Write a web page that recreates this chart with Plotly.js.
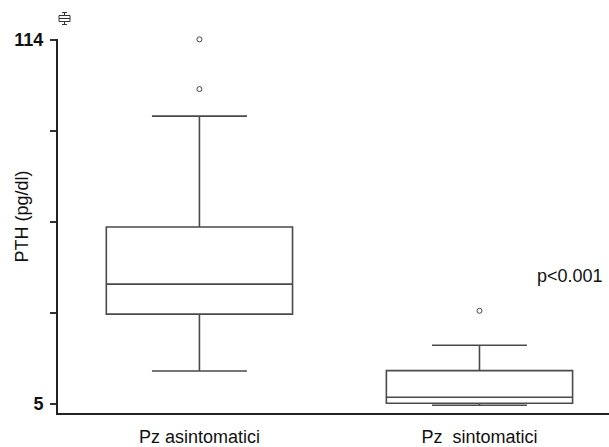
<!DOCTYPE html>
<html>
<head>
<meta charset="utf-8">
<script src="https://cdn.plot.ly/plotly-3.0.1.min.js"></script>
<style>html,body{margin:0;padding:0;background:#fff;}#chart{width:609px;height:447px;}</style>
</head>
<body>
<div id="chart"></div>
<script>
// ---- data ----
var categories = ['Pz asintomatici', 'Pz\u00a0\u00a0sintomatici'];
var categoryPos = [0, 1];
var lowerFence = [14.9, 4.6];
var q1 = [31.9, 5.2];
var median = [40.9, 7.0];
var q3 = [58.0, 15.0];
var upperFence = [91.2, 22.6];
var outliersAsint = [114.2, 99.3];
var outliersSint = [32.9];
var yTickVals = [5, 32.25, 59.5, 86.75, 114];
var yTickText = ['5', '', '', '', '114'];
var pValueText = 'p<0.001';

var FONT = 'Liberation Sans, Arial, sans-serif';
var W = 609, H = 447, ML = 58, MR = 0, MT = 39, MB = 34;
var PW = W - ML - MR, PH = H - MT - MB;
function px(x) { return (x - ML) / PW; }
function py(y) { return (H - MB - y) / PH; }

var traces = [];
for (var i = 0; i < categories.length; i++) {
  traces.push({
    type: 'box',
    x: [categoryPos[i]],
    q1: [q1[i]], median: [median[i]], q3: [q3[i]],
    lowerfence: [lowerFence[i]], upperfence: [upperFence[i]],
    width: 0.665,
    whiskerwidth: 0.51,
    fillcolor: 'rgba(0,0,0,0)',
    line: {color: '#4a4a4a', width: 1.6},
    boxpoints: false,
    hoverinfo: 'skip',
    showlegend: false
  });
}
traces.push({
  type: 'scatter', mode: 'markers',
  x: outliersAsint.map(function(){return categoryPos[0];}),
  y: outliersAsint,
  marker: {symbol: 'circle-open', size: 5, color: '#444', line: {width: 1}},
  cliponaxis: false, showlegend: false, hoverinfo: 'skip'
});
traces.push({
  type: 'scatter', mode: 'markers',
  x: outliersSint.map(function(){return categoryPos[1];}),
  y: outliersSint,
  marker: {symbol: 'circle-open', size: 5, color: '#444', line: {width: 1}},
  cliponaxis: false, showlegend: false, hoverinfo: 'skip'
});

// small box icon (decoration) in top-left corner
var iconColor = '#333';
var shapes = [
  {type: 'rect', xref: 'paper', yref: 'paper', x0: px(59), x1: px(70), y0: py(21.5), y1: py(15.5), line: {color: iconColor, width: 1}},
  {type: 'line', xref: 'paper', yref: 'paper', x0: px(59), x1: px(70), y0: py(18.5), y1: py(18.5), line: {color: iconColor, width: 1}},
  {type: 'line', xref: 'paper', yref: 'paper', x0: px(64.5), x1: px(64.5), y0: py(15.5), y1: py(12.5), line: {color: iconColor, width: 1}},
  {type: 'line', xref: 'paper', yref: 'paper', x0: px(62), x1: px(67), y0: py(12.5), y1: py(12.5), line: {color: iconColor, width: 1}},
  {type: 'line', xref: 'paper', yref: 'paper', x0: px(64.5), x1: px(64.5), y0: py(21.5), y1: py(24.5), line: {color: iconColor, width: 1}},
  {type: 'line', xref: 'paper', yref: 'paper', x0: px(62), x1: px(67), y0: py(24.5), y1: py(24.5), line: {color: iconColor, width: 1}}
];

var TXT = '#111';
var layout = {
  width: W, height: H,
  margin: {l: ML, r: MR, t: MT, b: MB, pad: 0},
  paper_bgcolor: '#fff', plot_bgcolor: '#fff',
  font: {family: FONT, size: 18, color: TXT},
  showlegend: false,
  xaxis: {
    range: [-0.505, 1.4625],
    tickvals: categoryPos, ticktext: categories,
    ticks: '', showgrid: false, zeroline: false,
    showline: true, linecolor: '#222', linewidth: 2,
    ticklabelstandoff: 6,
    tickfont: {family: FONT, size: 18, color: TXT},
    fixedrange: true
  },
  yaxis: {
    range: [2.30, 114.3],
    tickvals: yTickVals, ticktext: yTickText,
    ticks: 'outside', ticklen: 6, tickwidth: 1.5, tickcolor: '#333',
    showgrid: false, zeroline: false,
    showline: true, linecolor: '#222', linewidth: 2,
    ticklabelstandoff: 3,
    tickfont: {family: FONT, size: 18, color: TXT, weight: 'bold'},
    title: {text: ''},
    fixedrange: true
  },
  annotations: [
    {xref: 'paper', yref: 'paper', x: px(21), y: py(216.5), text: 'PTH (pg/dl)', textangle: -90,
     showarrow: false, xanchor: 'center', yanchor: 'middle', font: {family: FONT, size: 18, color: TXT}},
    {xref: 'paper', yref: 'paper', x: px(570), y: py(276), text: pValueText,
     showarrow: false, xanchor: 'center', yanchor: 'middle', font: {family: FONT, size: 18, color: TXT}}
  ],
  shapes: shapes
};

Plotly.newPlot('chart', traces, layout, {staticPlot: true, displayModeBar: false});
</script>
</body>
</html>
